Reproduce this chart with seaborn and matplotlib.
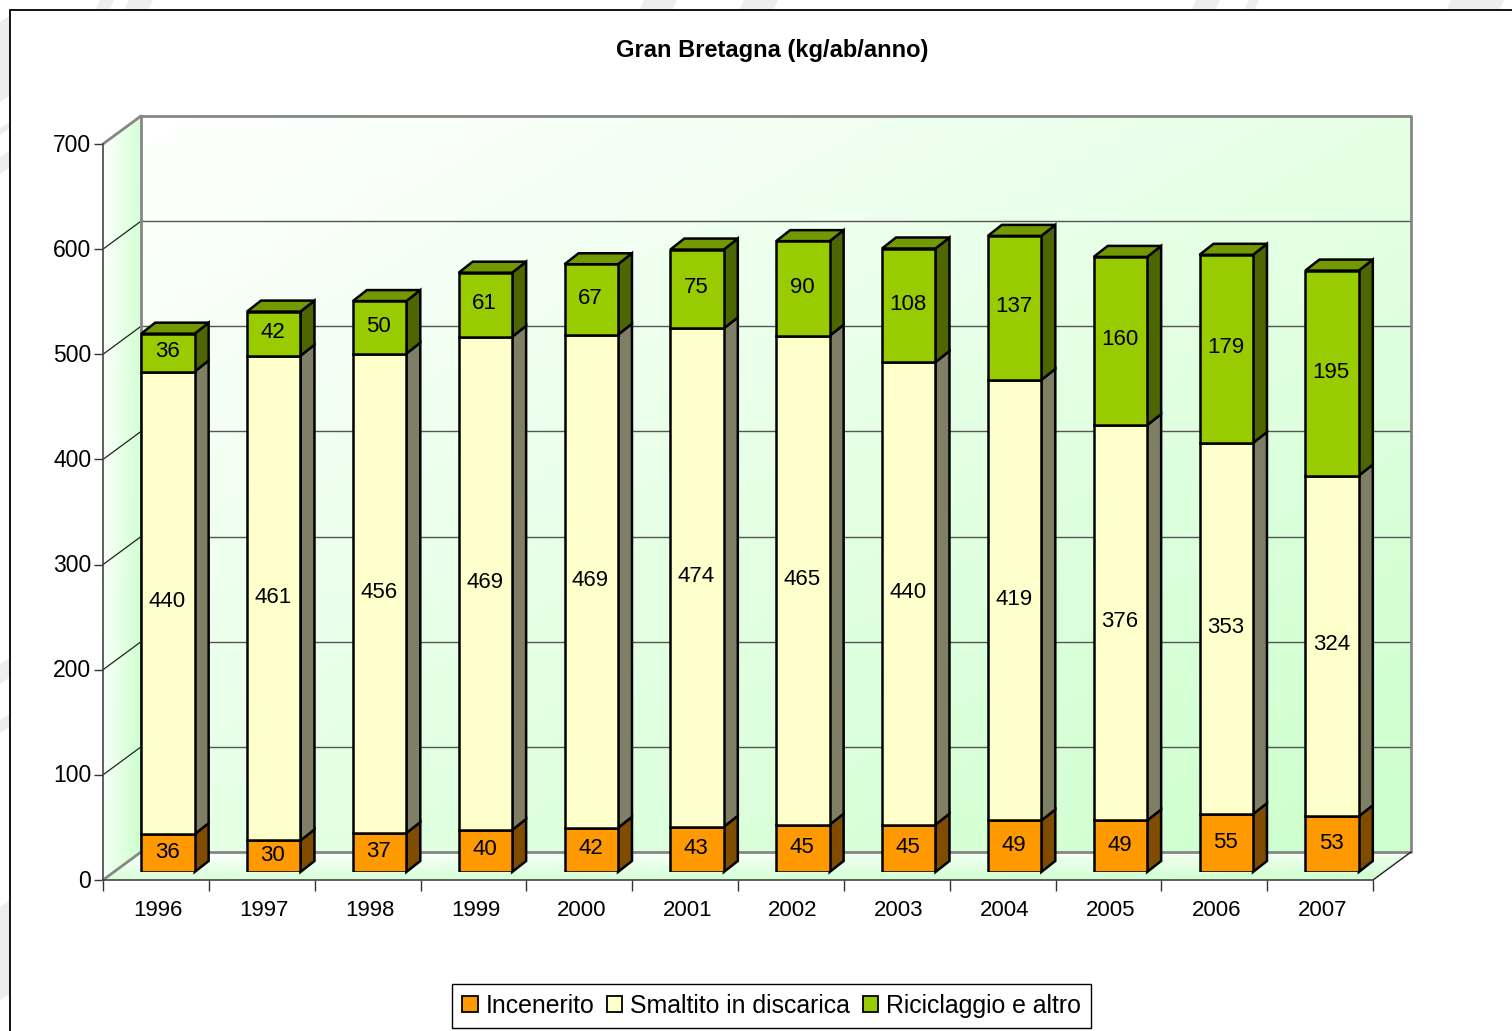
import numpy as np
import pandas as pd
import matplotlib
matplotlib.use("Agg")
import matplotlib.pyplot as plt
import seaborn as sns
from matplotlib.patches import Patch, Polygon, Rectangle
from matplotlib.transforms import ScaledTranslation

anni = [1996, 1997, 1998, 1999, 2000, 2001, 2002, 2003, 2004, 2005, 2006, 2007]
incenerito = [36, 30, 37, 40, 42, 43, 45, 45, 49, 49, 55, 53]
discarica = [440, 461, 456, 469, 469, 474, 465, 440, 419, 376, 353, 324]
riciclaggio = [36, 42, 50, 61, 67, 75, 90, 108, 137, 160, 179, 195]

nomi = ["Incenerito", "Smaltito in discarica", "Riciclaggio e altro"]
colori = ["#FF9900", "#FFFFCC", "#99CC00"]
colori_lato = ["#7F4C00", "#7F7F66", "#4D6600"]
colore_top = "#739900"

W, H = 1512, 1031


def rect_px(x0, y0, x1, y1):
    # pixel box (top-left origin) to figure fractions
    return [x0 / W, 1 - y1 / H, (x1 - x0) / W, (y1 - y0) / H]


sns.set_theme(style="white")
plt.rcParams["font.family"] = ["Liberation Sans", "DejaVu Sans"]

df = pd.DataFrame(
    {"anno": anni, "inc": incenerito, "dis": discarica, "ric": riciclaggio}
)

fig = plt.figure(figsize=(W / 100, H / 100), dpi=100, facecolor="white")

# whole page in pixels, for the frame and the 3D box
bg = fig.add_axes([0, 0, 1, 1], zorder=0)
bg.set_xlim(0, W)
bg.set_ylim(H, 0)
bg.axis("off")

# faint watermark showing around the frame
for y0, y1 in [(16, 102), (122, 135), (151, 174), (658, 684), (714, 733), (901, 1000)]:
    bg.fill([0, 9, 9, 0], [y0 + 6, y0, y1 - 6, y1], color="#EEEEEE", lw=0)
for x0, x1 in [(96, 110), (125, 149), (640, 673), (740, 774), (1192, 1216), (1245, 1255), (1447, 1500)]:
    bg.fill([x0 + 4, x1 + 4, x1, x0], [0, 0, 9, 9], color="#EEEEEE", lw=0)
bg.add_patch(Rectangle((9.5, 9.5), W, H, fc="white", ec="black", lw=1.3))

# gradient walls: white to pale green
verde = np.array([0xCC, 0xFF, 0xCC]) / 255
u, v = np.meshgrid(np.linspace(0, 1, 200), np.linspace(0, 1, 200))


def parete(t, extent, pts):
    rgb = 1 - (1 - verde) * t[..., None]
    im = bg.imshow(rgb, extent=extent, aspect="auto", zorder=1, interpolation="bilinear")
    im.set_clip_path(Polygon(pts, transform=bg.transData))


parete((u + v) / 2, (141, 1411, 852, 116), [(141, 116), (1411, 116), (1411, 852), (141, 852)])
parete(u * 0.8 + v * 0.2, (103, 141, 880, 116), [(103, 144), (141, 116), (141, 852), (103, 880)])
parete(v * 0.75 + u * 0.25, (103, 1411, 880, 852), [(141, 852), (1411, 852), (1373, 880), (103, 880)])
bg.set_xlim(0, W)
bg.set_ylim(H, 0)

# front plane of the chart, carries the ticks
ax = fig.add_axes(rect_px(103, 144, 1373, 880), zorder=2)
ax.patch.set_alpha(0)
ax.set_xlim(-0.5, len(anni) - 0.5)
ax.set_ylim(0, 700)
sns.despine(ax=ax, top=True, right=True)
for s in ["left", "bottom"]:
    ax.spines[s].set_color("#444444")
    ax.spines[s].set_linewidth(1.2)
ax.set_yticks(range(0, 701, 100))
ax.set_xticks(np.arange(len(anni) + 1) - 0.5)
ax.set_xticklabels([])
ax.tick_params(axis="y", left=True, length=6.5, width=1, color="#333333", labelsize=16.5, pad=2, labelcolor="black")
ax.tick_params(axis="x", bottom=True, length=8, width=1, color="#333333")
ax.set_xlabel("")
ax.set_ylabel("")
for lab in ax.get_yticklabels():
    lab.set_transform(lab.get_transform() + ScaledTranslation(0, 1.5 / 100, fig.dpi_scale_trans))

# depth of the box and of the bars, in data units
sx = 1 / (1270 / 12)
sy = 700 / 736
box_dx, box_dy = 38 * sx, 28 * sy

for i, a in enumerate(anni):
    ax.text(i + 0.02, -29, str(a), ha="center", va="center", fontsize=16, color="black", clip_on=False)

grigio = "#868686"
for val in range(0, 701, 100):
    if val in (0, 700):
        continue
    ax.plot([-0.5, -0.5 + box_dx], [val, val + box_dy], color="#222222", lw=0.9, clip_on=False)
    ax.plot([-0.5 + box_dx, 11.5 + box_dx], [val + box_dy] * 2, color="#555555", lw=1, clip_on=False)
# edges of the box
x_l, x_r = -0.5 + box_dx, 11.5 + box_dx
y_b, y_t = box_dy, 700 + box_dy
ax.plot([x_l, x_r, x_r, x_l, x_l], [y_t, y_t, y_b, y_b, y_t], color=grigio, lw=2, clip_on=False)
ax.plot([-0.5, x_l], [700, y_t], color=grigio, lw=2, clip_on=False)
ax.plot([-0.5, x_l], [0, y_b], color=grigio, lw=2, clip_on=False)
ax.plot([11.5, x_r], [0, y_b], color="#222222", lw=1, clip_on=False)

# bars sit on the floor, a bit behind the front plane
ab = fig.add_axes(rect_px(103 + 12, 144 - 8, 1373 + 12, 880 - 8), zorder=3)
ab.patch.set_alpha(0)
ab.axis("off")

larg = 0.505
dx, dy = 14 * sx, 11 * sy
bottom = np.zeros(len(anni))
serie = [incenerito, discarica, riciclaggio]
for j, col in enumerate(["inc", "dis", "ric"]):
    sns.barplot(
        data=df, x="anno", y=col, bottom=bottom, color=colori[j], saturation=1,
        width=larg, edgecolor="black", linewidth=1.8, errorbar=None, ax=ab, zorder=3,
    )
    for i, val in enumerate(serie[j]):
        x1 = i + larg / 2
        y0, y1 = bottom[i], bottom[i] + val
        ab.add_patch(Polygon(
            [(x1, y0), (x1 + dx, y0 + dy), (x1 + dx, y1 + dy), (x1, y1)],
            fc=colori_lato[j], ec="black", lw=1.8, clip_on=False, zorder=2,
        ))
        ab.text(i - 0.008, (y0 + y1) / 2 + 1, str(val), ha="center", va="center",
                fontsize=16, color="black", clip_on=False, zorder=5)
    bottom = bottom + np.array(serie[j])

for i, tot in enumerate(bottom):
    x0, x1 = i - larg / 2, i + larg / 2
    ab.add_patch(Polygon(
        [(x0, tot), (x0 + dx, tot + dy), (x1 + dx, tot + dy), (x1, tot)],
        fc=colore_top, ec="black", lw=1.8, clip_on=False, zorder=2,
    ))
ab.set_xlim(-0.5, len(anni) - 0.5)
ab.set_ylim(0, 700)
ab.axis("off")

fig.text(772 / W, 1 - 50 / H, "Gran Bretagna (kg/ab/anno)", ha="center", va="center",
         fontsize=17, fontweight="bold", color="black")

handles = [Patch(fc=c, ec="black", lw=1.3) for c in colori]
fig.legend(
    handles, nomi, loc="center", bbox_to_anchor=(771.5 / W, 1 - 1006 / H), ncol=3,
    fontsize=17.95, frameon=True, fancybox=False, edgecolor="black", framealpha=1,
    labelcolor="black", handlelength=0.62, handleheight=0.62, handletextpad=0.3,
    columnspacing=0.52, borderpad=0.4, borderaxespad=0,
)

fig.savefig("out.png", dpi=100)
